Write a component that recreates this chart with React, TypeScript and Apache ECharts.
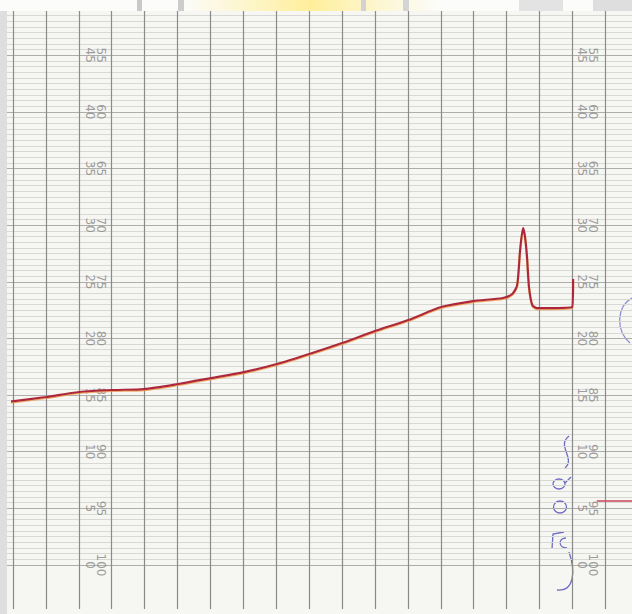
import React, { useEffect, useRef } from "react";
import * as echarts from "echarts";

// Recorder trace: x in chart divisions (vertical lines), y in lower-scale units (0..45)
const traceX = [-0.18, 1.0, 2.01, 3.04, 3.98, 5.02, 6.02, 7.02, 8.02, 9.0, 10.0, 11.0, 12.01, 13.01, 13.98, 14.89, 15.17, 15.32, 15.41, 15.5, 15.56, 15.62, 15.68, 15.78, 15.93, 16.99, 17.02];
const traceY = [14.39, 14.83, 15.27, 15.45, 15.53, 15.98, 16.5, 17.03, 17.74, 18.62, 19.59, 20.65, 21.62, 22.77, 23.3, 23.57, 23.92, 24.71, 27.8, 29.74, 28.95, 27.18, 24.54, 22.95, 22.68, 22.77, 25.24];

// Short pen mark at the right edge
const markX = [17.74, 18.81];
const markY = [5.65, 5.65];

// Printed scale labels (upper / lower numbers)
const scaleUpper = [55, 60, 65, 70, 75, 80, 85, 90, 95, 100];
const scaleLower = [45, 40, 35, 30, 25, 20, 15, 10, 5, 0];
const labelColumns = [2.5, 17.45];

export default function App() {
  const ref = useRef<HTMLDivElement>(null);

  useEffect(() => {
    if (!ref.current) return;
    const chart = echarts.init(ref.current, null, { renderer: "svg" });

    const hiddenAxis = {
      axisLine: { show: false },
      axisTick: { show: false },
      axisLabel: { show: false },
      splitLine: { show: false },
    };

    const labelData: any[] = [];
    labelColumns.forEach((c) => {
      scaleLower.forEach((v, i) => {
        labelData.push([c, v, `${scaleUpper[i]}\n${v}`]);
      });
    });

    const blue = "#6c6cc4";

    chart.setOption({
      animation: false,
      backgroundColor: "#f6f6f2",
      grid: [
        { left: 7, right: 0, top: 11, height: 554 },
        { left: 13, right: 0, top: 11, height: 598 },
      ],
      xAxis: [
        { type: "value", gridIndex: 0, min: 0, max: 1, ...hiddenAxis },
        {
          type: "value",
          gridIndex: 1,
          min: 0,
          max: 18.81,
          interval: 1,
          axisLine: { show: false },
          axisTick: { show: false },
          axisLabel: { show: false },
          splitLine: {
            show: true,
            showMaxLine: false,
            lineStyle: { color: "#8a8a8a", width: 1.2 },
          },
        },
      ],
      yAxis: [
        {
          type: "value",
          gridIndex: 0,
          min: 0,
          max: 48.9,
          interval: 0.5,
          axisLine: { show: false },
          axisTick: { show: false },
          axisLabel: { show: false },
          splitLine: {
            show: true,
            showMaxLine: false,
            lineStyle: { color: "#d8d8d5", width: 1 },
          },
        },
        {
          type: "value",
          gridIndex: 0,
          min: 0,
          max: 48.9,
          interval: 5,
          axisLine: { show: false },
          axisTick: { show: false },
          axisLabel: { show: false },
          splitLine: {
            show: true,
            showMaxLine: false,
            lineStyle: { color: "#adadab", width: 1 },
          },
        },
        { type: "value", gridIndex: 1, min: -3.88, max: 48.9, ...hiddenAxis },
      ],
      series: [
        {
          type: "scatter",
          xAxisIndex: 1,
          yAxisIndex: 2,
          symbolSize: 1,
          itemStyle: { color: "rgba(0,0,0,0)" },
          silent: true,
          z: 1,
          data: labelData,
          label: {
            show: true,
            position: "inside",
            rotate: -90,
            formatter: (p: any) => p.data[2],
            color: "#858585",
            fontSize: 12,
            lineHeight: 11,
            fontFamily: "DejaVu Sans",
            align: "center",
            verticalAlign: "middle",
          },
        },
        {
          type: "line",
          xAxisIndex: 1,
          yAxisIndex: 2,
          symbol: "none",
          clip: false,
          smooth: 0.25,
          z: 3,
          data: traceX.map((x, i) => [x, traceY[i]]),
          lineStyle: {
            color: "#ad283c",
            width: 2.2,
            shadowColor: "rgba(240,150,70,0.8)",
            shadowOffsetY: 1,
            shadowBlur: 0,
          },
        },
        {
          type: "line",
          xAxisIndex: 1,
          yAxisIndex: 2,
          symbol: "none",
          clip: false,
          z: 3,
          data: markX.map((x, i) => [x, markY[i]]),
          lineStyle: { color: "#cc4458", width: 1.6 },
        },
      ],
      graphic: [
        { type: "rect", shape: { x: 0, y: 0, width: 632, height: 11 }, style: { fill: "#fcfcfb" }, silent: true },
        {
          type: "rect",
          shape: { x: 180, y: 0, width: 260, height: 11 },
          style: {
            fill: new echarts.graphic.LinearGradient(0, 0, 1, 0, [
              { offset: 0, color: "rgba(255,240,160,0)" },
              { offset: 0.5, color: "rgba(255,238,150,0.95)" },
              { offset: 1, color: "rgba(255,240,160,0)" },
            ]),
          },
          silent: true,
        },
        { type: "rect", shape: { x: 137, y: 0, width: 5, height: 11 }, style: { fill: "#c9c9c9" }, silent: true },
        { type: "rect", shape: { x: 178, y: 0, width: 6, height: 11 }, style: { fill: "#cdcdcd" }, silent: true },
        { type: "rect", shape: { x: 361, y: 0, width: 5, height: 11 }, style: { fill: "#d2d2d2" }, silent: true },
        { type: "rect", shape: { x: 403, y: 0, width: 6, height: 11 }, style: { fill: "#d4d4d4" }, silent: true },
        { type: "rect", shape: { x: 519, y: 0, width: 44, height: 11 }, style: { fill: "#e3e3e3" }, silent: true },
        { type: "rect", shape: { x: 593, y: 0, width: 39, height: 11 }, style: { fill: "#dedede" }, silent: true },
        { type: "rect", shape: { x: 0, y: 11, width: 7, height: 603 }, style: { fill: "#dedede" }, silent: true },
        // handwritten blue marks
        {
          type: "bezierCurve",
          shape: { x1: 569, y1: 436, cpx1: 556, cpy1: 446, cpx2: 576, cpy2: 458, x2: 565, y2: 468 },
          style: { stroke: blue, lineWidth: 1.3, fill: "none" },
          silent: true,
        },
        { type: "ellipse", shape: { cx: 559, cy: 484, rx: 6, ry: 5 }, style: { stroke: blue, lineWidth: 1.3, fill: "none" }, silent: true },
        { type: "line", shape: { x1: 565, y1: 483, x2: 571, y2: 477 }, style: { stroke: blue, lineWidth: 1.3 }, silent: true },
        { type: "ellipse", shape: { cx: 560, cy: 507, rx: 6.5, ry: 6 }, style: { stroke: blue, lineWidth: 1.3, fill: "none" }, silent: true },
        {
          type: "polyline",
          shape: { points: [[564, 532], [553, 534], [552, 549]] },
          style: { stroke: blue, lineWidth: 1.3, fill: "none" },
          silent: true,
        },
        {
          type: "bezierCurve",
          shape: { x1: 566, y1: 538, cpx1: 558, cpy1: 538, cpx2: 558, cpy2: 548, x2: 567, y2: 548 },
          style: { stroke: blue, lineWidth: 1.3, fill: "none" },
          silent: true,
        },
        {
          type: "bezierCurve",
          shape: { x1: 569, y1: 552, cpx1: 576, cpy1: 572, cpx2: 574, cpy2: 592, x2: 557, y2: 590 },
          style: { stroke: blue, lineWidth: 1.3, fill: "none" },
          silent: true,
        },
        {
          type: "bezierCurve",
          shape: { x1: 632, y1: 298, cpx1: 617, cpy1: 306, cpx2: 615, cpy2: 330, x2: 630, y2: 343 },
          style: { stroke: "#8a8ad6", lineWidth: 1.2, fill: "none" },
          silent: true,
        },
      ],
    });

    return () => chart.dispose();
  }, []);

  return (
    <div
      ref={ref}
      style={{ position: "absolute", left: 0, top: 0, width: 632, height: 614 }}
    />
  );
}
